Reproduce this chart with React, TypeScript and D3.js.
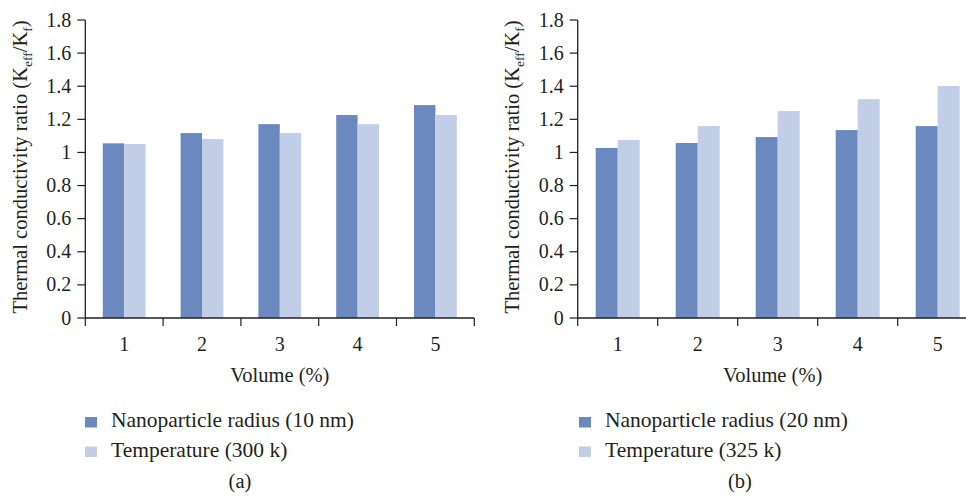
import React, { useEffect, useRef } from 'react'
import * as d3 from 'd3'

// Volume categories (%)
const volumes = ['1', '2', '3', '4', '5']
const yTicks = [0, 0.2, 0.4, 0.6, 0.8, 1, 1.2, 1.4, 1.6, 1.8]

// panel (a)
const radius10 = [1.055, 1.117, 1.171, 1.226, 1.286]
const temp300 = [1.051, 1.081, 1.117, 1.171, 1.226]
const legendA = ['Nanoparticle radius (10 nm)', 'Temperature (300 k)']

// panel (b)
const radius20 = [1.027, 1.057, 1.093, 1.135, 1.159]
const temp325 = [1.075, 1.159, 1.25, 1.322, 1.401]
const legendB = ['Nanoparticle radius (20 nm)', 'Temperature (325 k)']

const colors = ['#6c89bf', '#c2cde8']
const font = 'Liberation Serif, Times New Roman, serif'
const ink = '#231f20'

export default function App() {
	const ref = useRef<SVGSVGElement>(null)

	useEffect(() => {
		const svg = d3.select(ref.current)
		svg.selectAll('*').remove()

		const drawPanel = (opts: {
			x0: number, x1: number, titleX: number,
			series: number[][], legend: string[], legendX: number, caption: string, captionX: number,
		}) => {
			const top = 20
			const bottom = 318
			const y = d3.scaleLinear().domain([0, 1.8]).range([bottom, top])

			const x = d3.scaleBand()
				.domain(volumes)
				.range([opts.x0, opts.x1])
				.paddingInner(0.45)
				.paddingOuter(0.225)

			const xs = d3.scaleBand()
				.domain(['0', '1'])
				.range([0, x.bandwidth()])

			const g = svg.append('g')
				.attr('font-family', font)
				.attr('fill', ink)

			// bars
			opts.series.forEach((vals, si) => {
				g.selectAll(null)
					.data(vals)
					.enter()
					.append('rect')
					.attr('x', (_, i) => (x(volumes[i]) as number) + (xs(String(si)) as number))
					.attr('y', d => y(d))
					.attr('width', xs.bandwidth())
					.attr('height', d => bottom - y(d))
					.attr('fill', colors[si])
			})

			// y axis
			g.append('line')
				.attr('x1', opts.x0).attr('x2', opts.x0)
				.attr('y1', top).attr('y2', bottom)
				.attr('stroke', ink).attr('stroke-width', 1.3)
			yTicks.forEach(t => {
				g.append('line')
					.attr('x1', opts.x0 - 8).attr('x2', opts.x0)
					.attr('y1', y(t)).attr('y2', y(t))
					.attr('stroke', ink).attr('stroke-width', 1.2)
				g.append('text')
					.attr('x', opts.x0 - 14)
					.attr('y', y(t))
					.attr('dy', '0.33em')
					.attr('text-anchor', 'end')
					.attr('font-size', 20)
					.text(String(t))
			})

			// x axis
			g.append('line')
				.attr('x1', opts.x0).attr('x2', opts.x1)
				.attr('y1', bottom).attr('y2', bottom)
				.attr('stroke', ink).attr('stroke-width', 1.3)
			d3.range(volumes.length + 1).forEach(i => {
				const tx = opts.x0 + i * x.step()
				g.append('line')
					.attr('x1', tx).attr('x2', tx)
					.attr('y1', bottom).attr('y2', bottom + 8)
					.attr('stroke', ink).attr('stroke-width', 1.2)
			})
			volumes.forEach(v => {
				g.append('text')
					.attr('x', (x(v) as number) + x.bandwidth() / 2)
					.attr('y', 351)
					.attr('text-anchor', 'middle')
					.attr('font-size', 20)
					.text(v)
			})
			g.append('text')
				.attr('x', opts.x1 > 966 ? (opts.x0 + opts.x1) / 2 - 5 : (opts.x0 + opts.x1) / 2)
				.attr('y', 382)
				.attr('text-anchor', 'middle')
				.attr('font-size', 20.5)
				.text('Volume (%)')

			// y title
			const title = g.append('text')
				.attr('transform', `translate(${opts.titleX}, 167) rotate(-90)`)
				.attr('text-anchor', 'middle')
				.attr('font-size', 20.5)
			title.append('tspan').text('Thermal conductivity ratio (K')
			title.append('tspan').attr('dy', 5).attr('font-size', 13.5).text('eff')
			title.append('tspan').attr('dy', -5).text('/K')
			title.append('tspan').attr('dy', 5).attr('font-size', 13.5).text('f')
			title.append('tspan').attr('dy', -5).text(')')

			// legend
			opts.legend.forEach((label, i) => {
				const ly = 427 + i * 29.5
				g.append('rect')
					.attr('x', opts.legendX)
					.attr('y', ly - 10)
					.attr('width', 12)
					.attr('height', 10.5)
					.attr('fill', colors[i])
				g.append('text')
					.attr('x', opts.legendX + 26)
					.attr('y', ly)
					.attr('font-size', 21.5)
					.text(label)
			})

			g.append('text')
				.attr('x', opts.captionX)
				.attr('y', 488)
				.attr('text-anchor', 'middle')
				.attr('font-size', 20.5)
				.text(opts.caption)
		}

		drawPanel({
			x0: 85.3, x1: 474.3, titleX: 27,
			series: [radius10, temp300], legend: legendA, legendX: 85, caption: '(a)', captionX: 240,
		})
		drawPanel({
			x0: 577.7, x1: 977.7, titleX: 519,
			series: [radius20, temp325], legend: legendB, legendX: 579, caption: '(b)', captionX: 740,
		})
	}, [])

	return (
		<svg
			ref={ref}
			width={966}
			height={498}
			style={{ position: 'absolute', left: 0, top: 0, background: '#fff' }}
		/>
	)
}
